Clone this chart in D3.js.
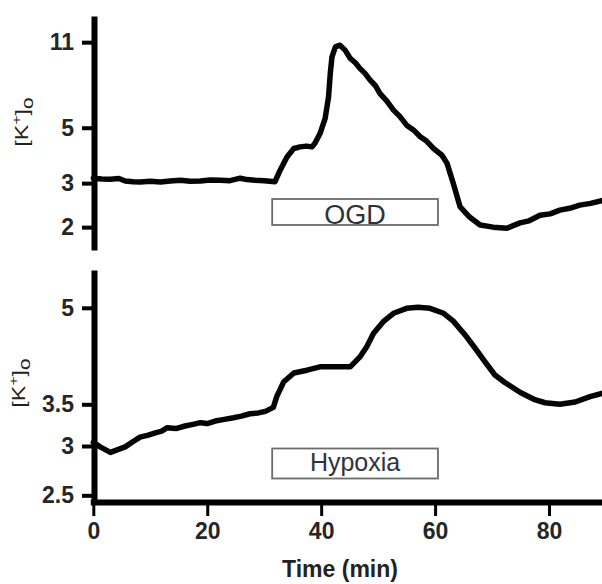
<!DOCTYPE html>
<html>
<head>
<meta charset="utf-8">
<script src="https://cdn.jsdelivr.net/npm/d3@7"></script>
<style>
body { margin: 0; background: #fff; }
svg { display: block; }
.tk text { font-family: "Liberation Sans", Arial, sans-serif; font-weight: bold; fill: #262626; }
.lbl { font-family: "Liberation Sans", Arial, sans-serif; fill: #222; }
</style>
</head>
<body>
<svg id="chart" width="602" height="584"></svg>
<script>
// top panel: [K+]o during OGD (time in min, mM)
let ogdTime = [0, 1.5, 3, 4.5, 5.6, 7, 8.2, 10, 11.8, 13.5, 15.3, 17, 18.8, 20.5, 22.3, 24, 25.8, 27, 28.4, 30, 31.9,
    32.8, 34.0, 35.2, 36.3, 37.4, 38.4, 38.9, 39.8, 40.7, 41.3, 41.6, 41.9, 42.5, 43.3, 44.2, 45.1, 46.0, 46.8, 47.7, 48.6,
    49.5, 50.3, 51.5, 52.7, 53.8, 55.0, 56.2, 57.4, 58.5, 59.7, 61.2, 62.1, 63.2, 64.4, 66.1, 67.9, 70.2, 72.6, 74.9,
    76.5, 78.4, 80.2, 81.9, 83.6, 85.4, 87.3, 89.5];
let ogdK = [3.14, 3.12, 3.11, 3.13, 3.06, 3.04, 3.03, 3.05, 3.03, 3.06, 3.08, 3.05, 3.06, 3.09, 3.08, 3.07, 3.14, 3.10, 3.08, 3.07, 3.04,
    3.38, 3.82, 4.13, 4.19, 4.22, 4.19, 4.33, 4.74, 5.45, 6.65, 8.25, 9.61, 10.54, 10.70, 10.22, 9.47, 9.10, 8.64, 8.25, 7.75,
    7.38, 6.86, 6.40, 5.88, 5.55, 5.12, 4.90, 4.60, 4.42, 4.13, 3.88, 3.60, 2.99, 2.41, 2.19, 2.04, 2.00, 1.98, 2.08,
    2.12, 2.23, 2.26, 2.34, 2.38, 2.45, 2.49, 2.56];

// bottom panel: [K+]o during hypoxia
let hypTime = [0, 1.2, 3.0, 4.3, 5.6, 7, 8.2, 9.5, 10.9, 12, 13.0, 14.5, 16.1, 17.5, 18.8, 20, 21.4, 23, 24.6, 26, 27.5, 29,
    30.2, 31.6, 32.2, 33.4, 35.2, 37.5, 39.8, 42.5, 45.1, 46.8, 48.0, 49.2, 50.9, 52.7, 55.0, 57, 59.1, 61.5, 63.2,
    64.4, 65.3, 67.0, 68.8, 70.5, 72.3, 74.9, 77.5, 79.3, 81.9, 84.6, 87.2, 89.5];
let hypK = [3.04, 2.99, 2.93, 2.96, 2.99, 3.05, 3.10, 3.12, 3.15, 3.17, 3.21, 3.20, 3.23, 3.25, 3.27, 3.26, 3.29, 3.31, 3.33, 3.35, 3.38, 3.39,
    3.41, 3.46, 3.60, 3.80, 3.93, 3.97, 4.02, 4.02, 4.02, 4.17, 4.33, 4.55, 4.75, 4.90, 4.99, 5.01, 4.99, 4.90, 4.76,
    4.62, 4.52, 4.31, 4.09, 3.90, 3.79, 3.66, 3.56, 3.52, 3.50, 3.53, 3.60, 3.65];

let xTicks = [0, 20, 40, 60, 80];
let ogdTicks = [2, 3, 5, 11];
let hypTicks = [2.5, 3, 3.5, 5];

// stimulus bars
let stimLabels = ["OGD", "Hypoxia"];
let stimStart = [31.4, 31.4];
let stimEnd = [60.5, 60.5];

const svg = d3.select("#chart");

const x = d3.scaleLinear().domain([0, 90]).range([93.3, 606]);
const yTop = d3.scaleLog().domain([1.62, 14]).range([250, 16]);
const yBot = d3.scaleLog().domain([2.43, 5.75]).range([503, 270]);

function addYAxis(y, ticks) {
    let g = svg.append("g")
        .attr("class", "tk")
        .attr("transform", "translate(94,0)")
        .call(d3.axisLeft(y).tickValues(ticks).tickFormat(d3.format("")).tickSize(12).tickSizeOuter(0).tickPadding(8));
    g.select(".domain").attr("stroke-width", 6);
    g.selectAll(".tick line").attr("stroke-width", 4);
    g.selectAll(".tick text").style("font-size", "23px");
}

function addTrace(y, time, vals) {
    let line = d3.line().x(d => x(d[0])).y(d => y(d[1]));
    svg.append("path")
        .datum(d3.zip(time, vals))
        .attr("d", line)
        .attr("fill", "none")
        .attr("stroke", "#050505")
        .attr("stroke-width", 5.5)
        .attr("stroke-linejoin", "round")
        .attr("stroke-linecap", "round");
}

function addStim(i, top, h, fs, base) {
    let x0 = x(stimStart[i]), x1 = x(stimEnd[i]);
    svg.append("rect")
        .attr("x", x0).attr("y", top)
        .attr("width", x1 - x0).attr("height", h)
        .attr("fill", "none").attr("stroke", "#6b6b6b").attr("stroke-width", 1.8);
    svg.append("text")
        .attr("class", "lbl")
        .attr("x", (x0 + x1) / 2).attr("y", base)
        .attr("text-anchor", "middle")
        .style("font-size", fs + "px")
        .style("fill", "#2d323d")
        .text(stimLabels[i]);
}

// [K+]o label, rotated
function addKLabel(lx, ly) {
    let t = svg.append("text")
        .attr("class", "lbl")
        .attr("transform", `translate(${lx},${ly}) rotate(-90) scale(1.3,1)`)
        .attr("text-anchor", "middle")
        .style("font-size", "18px");
    t.append("tspan").text("[K");
    t.append("tspan").attr("dy", -7).style("font-size", "12px").text("+");
    t.append("tspan").attr("dy", 7).text("]");
    t.append("tspan").attr("dy", 5).style("font-size", "16px").text("o");
}

// top panel
addYAxis(yTop, ogdTicks);
addTrace(yTop, ogdTime, ogdK);
addStim(0, 199, 26, 27, 223.5);
addKLabel(28, 122);

// bottom panel
addYAxis(yBot, hypTicks);
addTrace(yBot, hypTime, hypK);
addStim(1, 448.5, 30, 25, 470.5);
addKLabel(25, 383);

// x axis
let gx = svg.append("g")
    .attr("class", "tk")
    .attr("transform", "translate(0,502)")
    .call(d3.axisBottom(x).tickValues(xTicks).tickSize(14).tickSizeOuter(0).tickPadding(7));
gx.select(".domain").attr("stroke-width", 6).attr("stroke-linecap", "square");
gx.selectAll(".tick line").attr("stroke-width", 3);
gx.selectAll(".tick text").style("font-size", "23px");

svg.append("text")
    .attr("class", "lbl")
    .attr("x", 340).attr("y", 577)
    .attr("text-anchor", "middle")
    .style("font-size", "23px")
    .attr("font-weight", "bold")
    .text("Time (min)");
</script>
</body>
</html>
